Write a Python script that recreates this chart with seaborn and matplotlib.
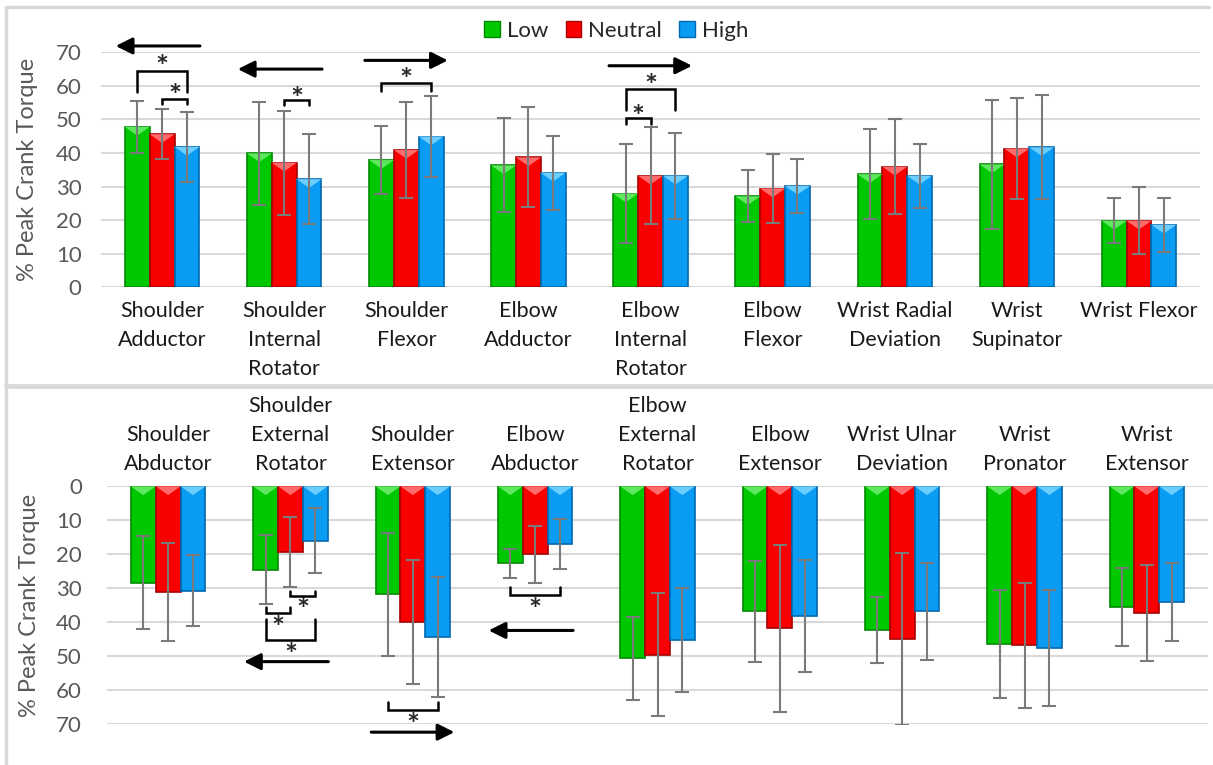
import numpy as np
import pandas as pd
import matplotlib.pyplot as plt
import seaborn as sns
from matplotlib.patches import Patch, Polygon
from matplotlib.lines import Line2D

# ---- data ----
levels = ["Low", "Neutral", "High"]

top_categories = ["Shoulder\nAdductor", "Shoulder\nInternal\nRotator", "Shoulder\nFlexor",
                  "Elbow\nAdductor", "Elbow\nInternal\nRotator", "Elbow\nFlexor",
                  "Wrist Radial\nDeviation", "Wrist\nSupinator", "Wrist Flexor"]
top_low = [47.8, 39.9, 37.9, 36.3, 27.9, 27.1, 33.7, 36.6, 19.8]
top_low_sd = [7.8, 15.3, 10.2, 14.0, 14.7, 7.8, 13.5, 19.2, 6.7]
top_neutral = [45.6, 37.1, 40.9, 38.7, 33.2, 29.4, 35.9, 41.3, 19.8]
top_neutral_sd = [7.5, 15.5, 14.3, 14.9, 14.5, 10.2, 14.2, 15.1, 10.0]
top_high = [41.8, 32.2, 44.9, 34.1, 33.2, 30.2, 33.2, 41.7, 18.6]
top_high_sd = [10.5, 13.4, 12.1, 11.0, 12.9, 8.0, 9.6, 15.5, 8.0]

bottom_categories = ["Shoulder\nAbductor", "Shoulder\nExternal\nRotator", "Shoulder\nExtensor",
                     "Elbow\nAbductor", "Elbow\nExternal\nRotator", "Elbow\nExtensor",
                     "Wrist Ulnar\nDeviation", "Wrist\nPronator", "Wrist\nExtensor"]
bot_low = [28.4, 24.6, 31.9, 22.7, 50.7, 36.9, 42.3, 46.4, 35.6]
bot_low_sd = [13.8, 10.2, 18.1, 4.3, 12.3, 14.8, 9.8, 15.9, 11.5]
bot_neutral = [31.2, 19.3, 40.0, 20.1, 49.7, 41.9, 45.0, 46.9, 37.3]
bot_neutral_sd = [14.4, 10.3, 18.2, 8.3, 18.1, 24.6, 25.4, 18.5, 14.2]
bot_high = [30.8, 16.1, 44.4, 16.9, 45.4, 38.3, 36.9, 47.7, 34.1]
bot_high_sd = [10.5, 9.6, 17.6, 7.4, 15.3, 16.6, 14.4, 17.0, 11.4]

# significance brackets: (category index, level a, level b, leg end, line level, star level)
top_sig = [(0, 0, 2, 58.1, 64.4, 67.2), (0, 1, 2, 54.6, 56.2, 58.8),
           (1, 1, 2, 54.3, 55.8, 57.9), (2, 0, 2, 58.5, 60.8, 63.5),
           (4, 0, 2, 52.8, 59.0, 61.8), (4, 0, 1, 48.6, 50.3, 52.5)]
bot_sig = [(1, 1, 2, 30.8, 32.4, 35.0), (1, 0, 1, 35.5, 37.5, 40.2),
           (1, 0, 2, 39.1, 45.4, 48.3), (2, 0, 2, 63.7, 66.0, 68.9),
           (3, 0, 2, 29.6, 32.0, 35.0)]
# direction arrows: (category index, direction, level)
top_arrows = [(0, "left", 71.9), (1, "left", 65.0), (2, "right", 67.6), (4, "right", 66.0)]
bot_arrows = [(1, "left", 51.7), (2, "right", 72.5), (3, "left", 42.5)]

colors = ["#00C800", "#F80000", "#0A9CF2"]
edge_colors = ["#008A00", "#A80000", "#0068B0"]
light_colors = ["#5FE85F", "#FF6A6A", "#6CCDFF"]

sns.set_style("white")
plt.rcParams['font.family'] = ['Lato', 'DejaVu Sans']

fig = plt.figure(figsize=(12.13, 7.65), dpi=100)
ax_top = fig.add_axes([0.0833, 0.6245, 0.906, 0.3071])
ax_bot = fig.add_axes([0.0882, 0.0540, 0.9077, 0.3103])


def make_frame(cats, lo, ne, hi):
    return pd.DataFrame({
        "muscle": cats * 3,
        "level": [l for l in levels for _ in cats],
        "value": lo + ne + hi,
    })


def draw_panel(ax, cats, vals, sds, sig, arrows, inverted):
    df = make_frame(cats, *vals)
    sns.barplot(data=df, x="muscle", y="value", hue="level", hue_order=levels,
                palette=colors, width=0.61, errorbar=None, legend=False,
                saturation=1, ax=ax, zorder=2)
    bar_containers = list(ax.containers)
    centers = {}
    for k, cont in enumerate(bar_containers):
        xs = []
        for bar in cont:
            bar.set_edgecolor(edge_colors[k])
            bar.set_linewidth(1.2)
            x0, w, h = bar.get_x(), bar.get_width(), bar.get_height()
            xs.append(x0 + w / 2)
            base = 0 if inverted else h
            apex = base + (2.6 if inverted else -2.6)
            ax.add_patch(Polygon([[x0, base], [x0 + w, base], [x0 + w / 2, apex]],
                                 closed=True, facecolor=light_colors[k],
                                 edgecolor="none", zorder=3))
        centers[k] = xs
        ax.errorbar(xs, vals[k], yerr=sds[k], fmt="none", ecolor="#7A7A7A",
                    elinewidth=1.5, capsize=5, capthick=1.5, zorder=4)

    for ci, a, b, leg, line, star in sig:
        xa, xb = centers[a][ci], centers[b][ci]
        ax.plot([xa, xa, xb, xb], [leg, line, line, leg], color="black",
                lw=1.8, clip_on=False, zorder=5, solid_joinstyle="miter")
        ax.text((xa + xb) / 2, star + (1.8 if inverted else -2.0), "*",
                ha="center", va="center", fontsize=22, fontweight="bold",
                clip_on=False)

    for ci, direction, level in arrows:
        if direction == "left":
            tip, tail = ci - 0.38, ci + 0.31
        else:
            tail, tip = ci - 0.34, ci + 0.34
        ax.annotate("", xy=(tip, level), xytext=(tail, level),
                    arrowprops=dict(arrowstyle="-|>,head_length=1.0,head_width=0.5",
                                    lw=2.2, color="black", shrinkA=0, shrinkB=0),
                    annotation_clip=False)

    ax.set_xlim(-0.5, len(cats) - 0.5)
    ax.set_yticks(range(0, 71, 10))
    ax.yaxis.grid(True, color="#D9D9D9", lw=1.5, zorder=0)
    ax.xaxis.grid(False)
    for s in ax.spines.values():
        s.set_visible(False)
    ax.tick_params(axis="y", length=0, labelsize=16, labelcolor="#595959")
    ax.tick_params(axis="x", length=0, labelsize=15.5, labelcolor="#1A1A1A")
    ax.set_xlabel("")
    ax.set_ylabel("% Peak Crank Torque", fontsize=17, color="#595959")


draw_panel(ax_top, top_categories, [top_low, top_neutral, top_high],
           [top_low_sd, top_neutral_sd, top_high_sd], top_sig, top_arrows, False)
ax_top.set_ylim(0, 70)
ax_top.tick_params(axis="y", pad=14)
ax_top.tick_params(axis="x", pad=10)
ax_top.yaxis.set_label_coords(-0.057, 0.5)
for t in ax_top.get_xticklabels():
    t.set_linespacing(1.55)

draw_panel(ax_bot, bottom_categories, [bot_low, bot_neutral, bot_high],
           [bot_low_sd, bot_neutral_sd, bot_high_sd], bot_sig, bot_arrows, True)
ax_bot.set_ylim(70, 0)
ax_bot.xaxis.tick_top()
ax_bot.tick_params(axis="y", pad=18)
ax_bot.tick_params(axis="x", pad=9)
ax_bot.yaxis.set_label_coords(-0.061, 0.5)
for tick in ax_bot.xaxis.get_major_ticks():
    tick.label2.set_linespacing(1.55)

# legend
handles = [Patch(facecolor=c, edgecolor=e, label=l) for c, e, l in zip(colors, edge_colors, levels)]
fig.legend(handles=handles, loc="center", bbox_to_anchor=(0.508, 0.9595), ncol=3,
           frameon=False, fontsize=16, handlelength=0.7, handleheight=0.7,
           handletextpad=0.3, columnspacing=0.8)

# panel frames
frame = "#D9D9D9"
fig.add_artist(Line2D([6 / 1213, 1 - 4 / 1213], [1 - 7 / 765, 1 - 7 / 765], color=frame, lw=2.5))
fig.add_artist(Line2D([6 / 1213, 6 / 1213], [0, 1 - 7 / 765], color=frame, lw=2.5))
fig.add_artist(Line2D([6 / 1213, 1], [1 - 386 / 765, 1 - 386 / 765], color=frame, lw=3.5))

fig.savefig("out.png", dpi=100)
